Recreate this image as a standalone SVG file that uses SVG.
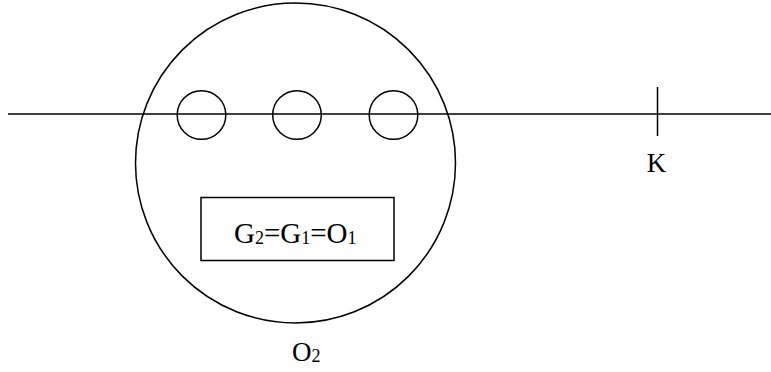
<svg xmlns="http://www.w3.org/2000/svg" width="771" height="372" viewBox="0 0 771 372">
<style>
.s{fill:none;stroke:#000;stroke-width:1.5}
.t{font-family:"Liberation Serif",serif;fill:#000}
</style>
<rect width="771" height="372" fill="#fff"/>
<g id="connectors">
<line class="s" x1="8" y1="114" x2="771" y2="114"/>
<line class="s" x1="657.5" y1="87" x2="657.5" y2="136"/>
</g>
<g id="O2">
<circle class="s" cx="295.5" cy="163" r="160"/>
<text class="t" x="292" y="361" font-size="27">O<tspan font-size="18" dy="1">2</tspan></text>
</g>
<g id="c1"><circle class="s" cx="201.5" cy="115" r="24.3"/></g>
<g id="c2"><circle class="s" cx="297" cy="115" r="24.3"/></g>
<g id="c3"><circle class="s" cx="393.5" cy="115" r="24.3"/></g>
<g id="box">
<rect class="s" x="201" y="197.5" width="193" height="63"/>
<text class="t" x="234" y="243" font-size="29">G<tspan font-size="18" dy="1">2</tspan><tspan dy="-1">=G</tspan><tspan font-size="18" dy="1">1</tspan><tspan dy="-1">=O</tspan><tspan font-size="18" dy="1">1</tspan></text>
</g>
<g id="K">
<text class="t" x="656.5" y="172" font-size="27" text-anchor="middle">K</text>
</g>
</svg>
